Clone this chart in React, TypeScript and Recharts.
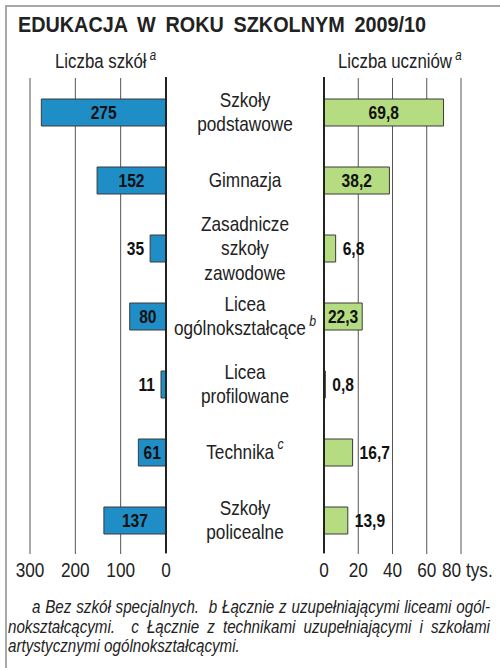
import { BarChart, Bar, XAxis, YAxis, CartesianGrid, LabelList } from 'recharts';

const categories = [
  ['Szkoły', 'podstawowe'],
  ['Gimnazja'],
  ['Zasadnicze', 'szkoły', 'zawodowe'],
  ['Licea', 'ogólnokształcące'],
  ['Licea', 'profilowane'],
  ['Technika'],
  ['Szkoły', 'policealne'],
];
const notes = ['', '', '', 'b', '', 'c', ''];
const schools = [275, 152, 35, 80, 11, 61, 137];
const pupils = [69.8, 38.2, 6.8, 22.3, 0.8, 16.7, 13.9];
const schoolTicks = [0, 100, 200, 300];
const pupilTicks = [0, 20, 40, 60, 80];

const data = categories.map((c, i) => ({ kat: i, szkoly: schools[i], uczniowie: pupils[i] }));

const FONT = '"Liberation Sans", Arial, sans-serif';
const SQ = 0.82; // no narrow font installed, so squeeze horizontally
const BLUE = '#1f8ec7';
const GREEN = '#b5dc80';

const fmt = (v: number) => String(v).replace('.', ',');

// rough width of a bold value label, decides inside / outside
const textW = (s: string) => s.replace(',', '').length * 8.5 + (s.includes(',') ? 4 : 0) + 4;

function NText({ x, y, anchor = 'middle', children, style, baseline }: any) {
  return (
    <g transform={`translate(${x} ${y}) scale(${SQ} 1)`}>
      <text x={0} y={0} textAnchor={anchor} dominantBaseline={baseline} style={{ fontFamily: FONT, ...style }}>
        {children}
      </text>
    </g>
  );
}

function ValueLabel(props: any) {
  const { x, y, width, height, value, side } = props;
  const s = fmt(value);
  const left = Math.min(x, x + width);
  const right = Math.max(x, x + width);
  const w = right - left;
  const cy = y + height / 2;
  const style = { fontWeight: 700, fontSize: 19, fill: '#111' };
  if (textW(s) <= w) {
    return <NText x={(left + right) / 2} y={cy} baseline="central" style={style}>{s}</NText>;
  }
  if (side === 'left') {
    return <NText x={left - 6} y={cy} anchor="end" baseline="central" style={style}>{s}</NText>;
  }
  return <NText x={right + 7} y={cy} anchor="start" baseline="central" style={style}>{s}</NText>;
}

function CategoryTick(props: any) {
  const { y, payload } = props;
  const lines = categories[payload.value];
  const note = notes[payload.value];
  const lh = 24.5;
  const top = y - ((lines.length - 1) * lh) / 2;
  return (
    <g>
      {lines.map((l, i) => (
        <NText key={i} x={79} y={top + i * lh} baseline="central" style={{ fontSize: 21, fill: '#222' }}>
          {l}
          {note && i === lines.length - 1 ? (
            <tspan fontStyle="italic" fontSize={15} dy={-8}>{' ' + note}</tspan>
          ) : null}
        </NText>
      ))}
    </g>
  );
}

function PupilTick(props: any) {
  const { x, y, payload } = props;
  const style = { fontSize: 21, fill: '#222' };
  if (payload.value === 80) {
    return <NText x={x - 19} y={y + 15} anchor="start" style={style}>80 tys.</NText>;
  }
  return <NText x={x} y={y + 15} style={style}>{payload.value}</NText>;
}

function SchoolTick(props: any) {
  const { x, y, payload } = props;
  return <NText x={x} y={y + 15} style={{ fontSize: 21, fill: '#222' }}>{payload.value}</NText>;
}

const squeeze = { display: 'inline-block', transform: `scaleX(${SQ})`, transformOrigin: 'left top', whiteSpace: 'nowrap' } as const;

export default function App() {
  return (
    <div style={{ position: 'absolute', left: 0, top: 0, width: 500, height: 668, background: '#fff', overflow: 'hidden', fontFamily: FONT }}>
      <div style={{ position: 'absolute', left: 5, top: 5, width: 520, height: 700, borderTop: '2px solid #a8a8a8', borderLeft: '2px solid #a8a8a8' }} />
      <div style={{ position: 'absolute', left: 18, top: 12, fontSize: 22.5, fontWeight: 700, color: '#222' }}>
        <span style={{ ...squeeze, transform: 'scaleX(0.88)', width: 408 / 0.88, textAlign: 'justify', textAlignLast: 'justify', whiteSpace: 'normal' }}>
          EDUKACJA W ROKU SZKOLNYM 2009/10
        </span>
      </div>
      <div style={{ position: 'absolute', left: 55, top: 47, fontSize: 20.5, color: '#222' }}>
        <span style={squeeze}>
          Liczba szkół<sup style={{ fontStyle: 'italic', fontSize: 14, marginLeft: 4 }}>a</sup>
        </span>
      </div>
      <div style={{ position: 'absolute', left: 338, top: 47, fontSize: 20.5, color: '#222' }}>
        <span style={squeeze}>
          Liczba uczniów<sup style={{ fontStyle: 'italic', fontSize: 14, marginLeft: 4 }}>a</sup>
        </span>
      </div>

      <div style={{ position: 'absolute', left: 0, top: 0 }}>
        <BarChart width={180} height={600} data={data} layout="vertical" margin={{ top: 78, right: 14, bottom: 0, left: 30 }} barSize={27}>
          <CartesianGrid horizontal={false} vertical stroke="#555" strokeWidth={1} />
          <XAxis type="number" dataKey="szkoly" domain={[0, 300]} ticks={schoolTicks} reversed axisLine={false} tickLine={false} tickMargin={2} height={46} tick={<SchoolTick />} interval={0} />
          <YAxis type="category" dataKey="kat" hide />
          <Bar dataKey="szkoly" fill={BLUE} stroke="#3a3a3a" strokeWidth={1} isAnimationActive={false}>
            <LabelList dataKey="szkoly" content={<ValueLabel side="left" />} />
          </Bar>
        </BarChart>
      </div>

      <div style={{ position: 'absolute', left: 166, top: 0 }}>
        <BarChart width={334} height={600} data={data} layout="vertical" margin={{ top: 78, right: 39, bottom: 0, left: 0 }} barSize={27}>
          <CartesianGrid horizontal={false} vertical stroke="#555" strokeWidth={1} />
          <XAxis type="number" dataKey="uczniowie" domain={[0, 80]} ticks={pupilTicks} axisLine={false} tickLine={false} tickMargin={2} height={46} tick={<PupilTick />} interval={0} />
          <YAxis type="category" dataKey="kat" width={158} axisLine={false} tickLine={false} tick={<CategoryTick />} interval={0} />
          <Bar dataKey="uczniowie" fill={GREEN} stroke="#3a3a3a" strokeWidth={1} isAnimationActive={false}>
            <LabelList dataKey="uczniowie" content={<ValueLabel side="right" />} />
          </Bar>
        </BarChart>
      </div>

      <div style={{ position: 'absolute', left: 165, top: 77, width: 1.5, height: 476, background: '#222' }} />
      <div style={{ position: 'absolute', left: 323, top: 77, width: 1.5, height: 476, background: '#222' }} />

      <div style={{ position: 'absolute', left: 8, top: 597, fontSize: 18.5, fontStyle: 'italic', color: '#222', lineHeight: '19.5px' }}>
        <div style={{ height: 19.5 }}>
          <span style={{ ...squeeze, marginLeft: 24, width: 458 / SQ, textAlign: 'justify', textAlignLast: 'justify', whiteSpace: 'normal' }}>
            a Bez szkół specjalnych.&nbsp; b Łącznie z uzupełniającymi liceami ogól-
          </span>
        </div>
        <div style={{ height: 19.5 }}>
          <span style={{ ...squeeze, width: 482 / SQ, textAlign: 'justify', textAlignLast: 'justify', whiteSpace: 'normal' }}>
            nokształcącymi.&nbsp; c Łącznie z technikami uzupełniającymi i szkołami
          </span>
        </div>
        <div style={{ height: 19.5 }}>
          <span style={squeeze}>artystycznymi ogólnokształcącymi.</span>
        </div>
      </div>
    </div>
  );
}
